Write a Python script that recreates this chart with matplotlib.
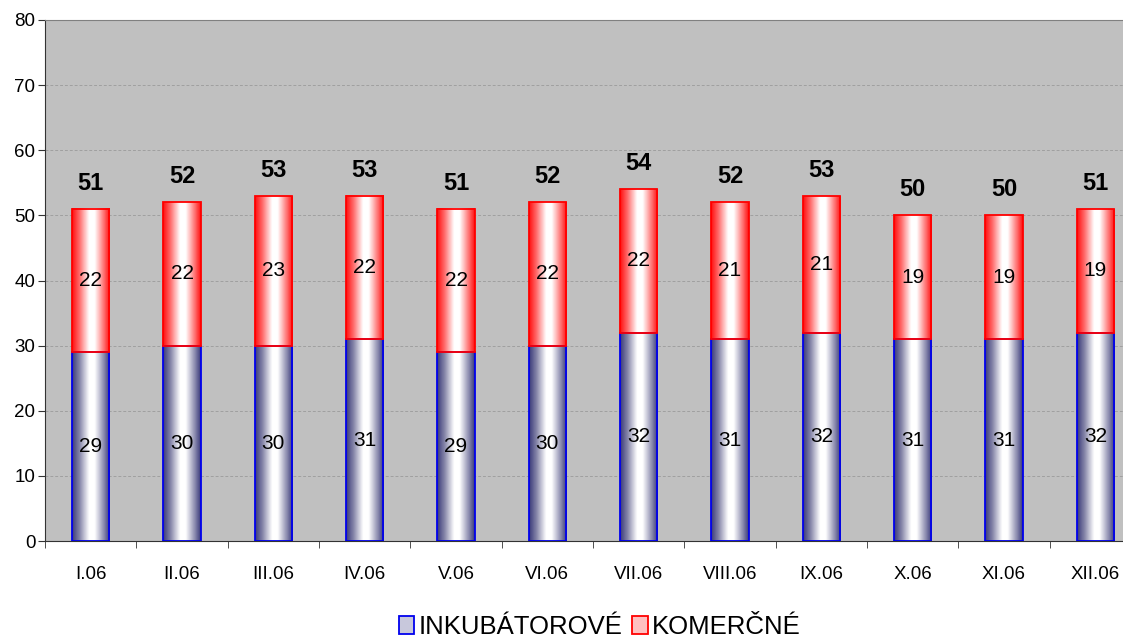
import numpy as np
import matplotlib
matplotlib.use('Agg')
import matplotlib.pyplot as plt
from matplotlib.colors import LinearSegmentedColormap
from matplotlib.patches import Patch

plt.rcParams['font.family'] = ['Liberation Sans', 'DejaVu Sans']

months = ["I.06", "II.06", "III.06", "IV.06", "V.06", "VI.06",
          "VII.06", "VIII.06", "IX.06", "X.06", "XI.06", "XII.06"]
inkubatorove = [29, 30, 30, 31, 29, 30, 32, 31, 32, 31, 31, 32]
komercne = [22, 22, 23, 22, 22, 22, 22, 21, 21, 19, 19, 19]

blue_cmap = LinearSegmentedColormap.from_list(
    "blu", [(0, "#3a3a7a"), (0.2, "#8888aa"), (0.45, "#ffffff"),
            (0.6, "#ffffff"), (0.85, "#8a8aae"), (1, "#3a3a7a")])
red_cmap = LinearSegmentedColormap.from_list(
    "red", [(0, "#ff1010"), (0.2, "#ff7070"), (0.45, "#ffffff"),
            (0.6, "#ffffff"), (0.85, "#ff7070"), (1, "#ff1010")])
grad = np.linspace(0, 1, 64).reshape(1, -1)

fig = plt.figure(figsize=(11.23, 6.4), dpi=100)
# plot area runs past the right edge like in the original screenshot
ax = fig.add_axes([45 / 1123, 1 - 541 / 640, 1096 / 1123, 521 / 640])
ax.set_facecolor("#c0c0c0")

x = np.arange(len(months))
w = 0.41

def gbar(xc, y0, h, cmap, edge):
    ax.imshow(grad, cmap=cmap, aspect='auto', interpolation='bilinear',
              extent=(xc - w / 2, xc + w / 2, y0, y0 + h), zorder=2)
    ax.add_patch(plt.Rectangle((xc - w / 2, y0), w, h, fill=False,
                               edgecolor=edge, linewidth=1.3, zorder=3))

for i in x:
    b = inkubatorove[i]
    k = komercne[i]
    gbar(i, 0, b, blue_cmap, "#0000ee")
    gbar(i, b, k, red_cmap, "#ff0000")
    ax.text(i, b / 2, str(b), ha='center', va='center', fontsize=15, zorder=4)
    ax.text(i, b + k / 2, str(k), ha='center', va='center', fontsize=15, zorder=4)
    ax.text(i, b + k + 2.2, str(b + k), ha='center', va='bottom',
            fontsize=17, fontweight='bold', zorder=4)

ax.set_xlim(-0.5, len(months) - 0.5)
ax.set_ylim(0, 80)
ax.set_yticks(range(0, 81, 10))
ax.grid(axis='y', color='#a0a0a0', linestyle=(0, (3, 2)), linewidth=0.7, zorder=1)
ax.set_axisbelow(True)

ax.set_xticks(x)
ax.set_xticklabels(months)
ax.set_xticks(np.arange(-0.5, len(months)), minor=True)
ax.tick_params(axis='x', which='major', length=0, pad=18, labelsize=13.5)
ax.tick_params(axis='x', which='minor', length=5, color='#333333')
ax.tick_params(axis='y', length=5, pad=2, labelsize=13.5, color='#333333')

ax.spines['top'].set_color('#808080')
ax.spines['right'].set_visible(False)
for s in ['left', 'bottom']:
    ax.spines[s].set_color('#333333')

handles = [Patch(facecolor='#c8c8dc', edgecolor='#0000ee', linewidth=1.3),
           Patch(facecolor='#ffc0c0', edgecolor='#ff0000', linewidth=1.3)]
fig.legend(handles, ["INKUBÁTOROVÉ", "KOMERČNÉ"], loc='center',
           bbox_to_anchor=(0.534, 0.02), ncol=2, frameon=False, fontsize=18.5,
           handlelength=0.6, handleheight=0.7, handletextpad=0.15,
           columnspacing=0.4)

fig.savefig("out.png", dpi=100)
